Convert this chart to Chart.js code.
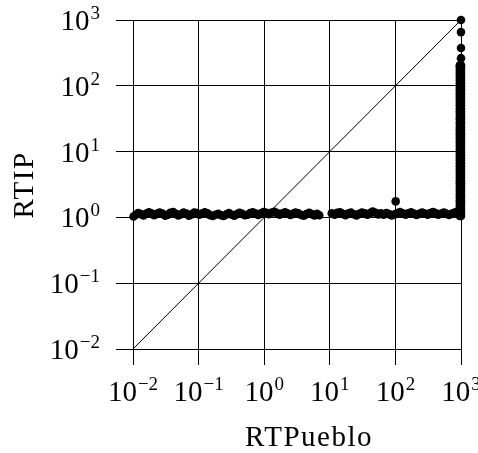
<!DOCTYPE html>
<html>
<head>
<meta charset="utf-8">
<script src="https://cdn.jsdelivr.net/npm/chart.js@4.4.1/dist/chart.umd.min.js"></script>
<style>
  body { margin: 0; background: #fff; }
  #wrap { width: 478px; height: 453px; }
</style>
</head>
<body>
<div id="wrap"><canvas id="myChart" width="478" height="453"></canvas></div>
<script>
// Achsen / Ticks
const tickValues = [0.01, 0.1, 1, 10, 100, 1000];
const tickExps = ['\u22122', '\u22121', '0', '1', '2', '3'];
const xTitle = 'RTPueblo';
const yTitle = 'RTIP';

// Punkte entlang y ~ 1 (Band)
const bandX = [0.0102, 0.011, 0.012, 0.0132, 0.0145, 0.016, 0.0175, 0.019, 0.021, 0.023, 0.0255, 0.028, 0.031, 0.034, 0.037, 0.041, 0.045, 0.049, 0.054, 0.059, 0.065, 0.071, 0.078, 0.086, 0.094, 0.103, 0.113, 0.124, 0.136, 0.15, 0.165, 0.18, 0.2, 0.22, 0.24, 0.265, 0.29, 0.32, 0.35, 0.385, 0.42, 0.46, 0.51, 0.56, 0.61, 0.67, 0.74, 0.81, 0.89, 0.98, 1.08, 1.18, 1.3, 1.43, 1.57, 1.72, 1.9, 2.08, 2.3, 2.5, 2.75, 3.0, 3.3, 3.65, 4.0, 4.4, 4.85, 5.3, 5.85, 6.4, 6.9,
  10.7, 11.8, 13.0, 14.3, 15.7, 17.3, 19.0, 21.0, 23.0, 25.5, 28.0, 31.0, 34.0, 37.5, 41.0, 45.0, 50.0, 55.0, 60.0, 66.0, 73.0, 80.0, 88.0, 97.0, 101.0, 107.0, 118.0, 130.0, 143.0, 157.0, 173.0, 190.0, 210.0, 230.0, 255.0, 280.0, 310.0, 340.0, 375.0, 410.0, 450.0, 500.0, 550.0, 600.0, 660.0, 730.0, 800.0, 880.0, 960.0];
const bandY = [1.03, 1.1, 1.16, 1.12, 1.07, 1.14, 1.2, 1.15, 1.08, 1.13, 1.19, 1.14, 1.06, 1.1, 1.17, 1.21, 1.13, 1.07, 1.12, 1.18, 1.14, 1.06, 1.11, 1.19, 1.16, 1.1, 1.14, 1.2, 1.15, 1.08, 1.05, 1.1, 1.13, 1.08, 1.05, 1.11, 1.16, 1.1, 1.06, 1.12, 1.17, 1.13, 1.08, 1.1, 1.16, 1.2, 1.14, 1.09, 1.15, 1.21, 1.17, 1.12, 1.18, 1.22, 1.16, 1.1, 1.15, 1.2, 1.14, 1.09, 1.13, 1.19, 1.15, 1.09, 1.06, 1.12, 1.17, 1.12, 1.07, 1.13, 1.08,
  1.15, 1.1, 1.17, 1.2, 1.13, 1.08, 1.14, 1.18, 1.12, 1.07, 1.13, 1.19, 1.15, 1.1, 1.16, 1.23, 1.17, 1.11, 1.15, 1.1, 1.16, 1.12, 1.07, 1.11, 1.75, 1.16, 1.21, 1.15, 1.1, 1.15, 1.2, 1.14, 1.09, 1.13, 1.19, 1.14, 1.1, 1.16, 1.21, 1.16, 1.1, 1.14, 1.19, 1.13, 1.09, 1.14, 1.18, 1.23, 1.17];

// Punkte bei x ~ 1000 (Saeule)
const colX = [1000, 960];
const colY = [1.05, 1.15, 1.25, 1.35, 1.5, 1.65, 1.8, 2.0, 2.2, 2.45, 2.7, 3.0, 3.3, 3.6, 4.0, 4.4, 4.9, 5.4, 6.0, 6.6, 7.3, 8.0, 8.8, 9.7, 10.7, 11.8, 13.0, 14.3, 15.8, 17.4, 19.0, 21.0, 23.0, 25.5, 28.0, 31.0, 34.0, 37.5, 41.0, 45.0, 50.0, 55.0, 61.0, 67.0, 74.0, 81.0, 89.0, 98.0, 108.0, 119.0, 131.0, 144.0, 158.0, 174.0, 192.0, 205.0];
const colTopY = [263.0, 375.0, 655.0, 1000.0];

// Diagonale
const diagX = [0.01, 1000];
const diagY = [0.01, 1000];

let points = [];
bandX.forEach(function(x, i) { points.push({ x: x, y: bandY[i] }); });
colX.forEach(function(x) {
  colY.forEach(function(y) { points.push({ x: x, y: y }); });
});
colTopY.forEach(function(y) { points.push({ x: colX[0], y: y }); });

const diag = diagX.map(function(x, i) { return { x: x, y: diagY[i] }; });

const serif = '"Liberation Serif", "DejaVu Serif", serif';

// eigene Tick-Labels mit Hochzahl + Achsentitel
const labelPlugin = {
  id: 'labels',
  afterDraw(chart) {
    const ctx = chart.ctx;
    const xs = chart.scales.x;
    const ys = chart.scales.y;
    ctx.save();
    ctx.fillStyle = '#000';
    ctx.textBaseline = 'alphabetic';
    tickValues.forEach(function(v, i) {
      ctx.font = '29px ' + serif;
      const wBase = ctx.measureText('10').width;
      ctx.font = '19px ' + serif;
      const wExp = ctx.measureText(tickExps[i]).width;
      // x-Achse
      const px = xs.getPixelForValue(v);
      let left = px - (wBase + wExp + 1) / 2;
      ctx.textAlign = 'left';
      ctx.font = '29px ' + serif;
      ctx.fillText('10', left, 401);
      ctx.font = '19px ' + serif;
      ctx.fillText(tickExps[i], left + wBase + 1, 390);
      // y-Achse
      const py = ys.getPixelForValue(v);
      const right = 100;
      ctx.font = '29px ' + serif;
      ctx.fillText('10', right - wExp - 1 - wBase, py + 10);
      ctx.font = '19px ' + serif;
      ctx.fillText(tickExps[i], right - wExp, py - 1);
    });
    // Titel
    ctx.font = '29px ' + serif;
    ctx.letterSpacing = '1.5px';
    ctx.textAlign = 'center';
    ctx.fillText(xTitle, 309, 446);
    ctx.translate(25, 185);
    ctx.rotate(-Math.PI / 2);
    ctx.textBaseline = 'middle';
    ctx.fillText(yTitle, 0, 0);
    ctx.restore();
  }
};

function onlyDecades(scale) {
  scale.ticks = tickValues.map(function(v) { return { value: v }; });
}

const config = {
  type: 'scatter',
  data: {
    datasets: [{
      label: 'diag',
      type: 'line',
      data: diag,
      borderColor: '#000',
      borderWidth: 1,
      pointRadius: 0,
      fill: false,
      clip: false
    }, {
      label: 'RTIP vs RTPueblo',
      data: points,
      backgroundColor: '#000',
      borderColor: '#000',
      pointRadius: 4.3,
      borderWidth: 0,
      clip: false
    }]
  },
  options: {
    responsive: false,
    animation: false,
    layout: { padding: { left: 0, top: 20, right: 17, bottom: 0 } },
    plugins: {
      legend: { display: false },
      tooltip: { enabled: false }
    },
    scales: {
      x: {
        type: 'logarithmic',
        min: 0.01,
        max: 1000,
        afterBuildTicks: onlyDecades,
        afterFit: function(scale) { scale.height = 104; },
        ticks: { display: false },
        border: { display: false },
        grid: { color: '#000', lineWidth: 1, tickLength: 16, drawTicks: true }
      },
      y: {
        type: 'logarithmic',
        min: 0.01,
        max: 1000,
        afterBuildTicks: onlyDecades,
        afterFit: function(scale) { scale.width = 133; },
        ticks: { display: false },
        border: { display: false },
        grid: { color: '#000', lineWidth: 1, tickLength: 17, drawTicks: true }
      }
    }
  },
  plugins: [labelPlugin]
};

const ctx = document.getElementById('myChart').getContext('2d');
const myChart = new Chart(ctx, config);
</script>
</body>
</html>
